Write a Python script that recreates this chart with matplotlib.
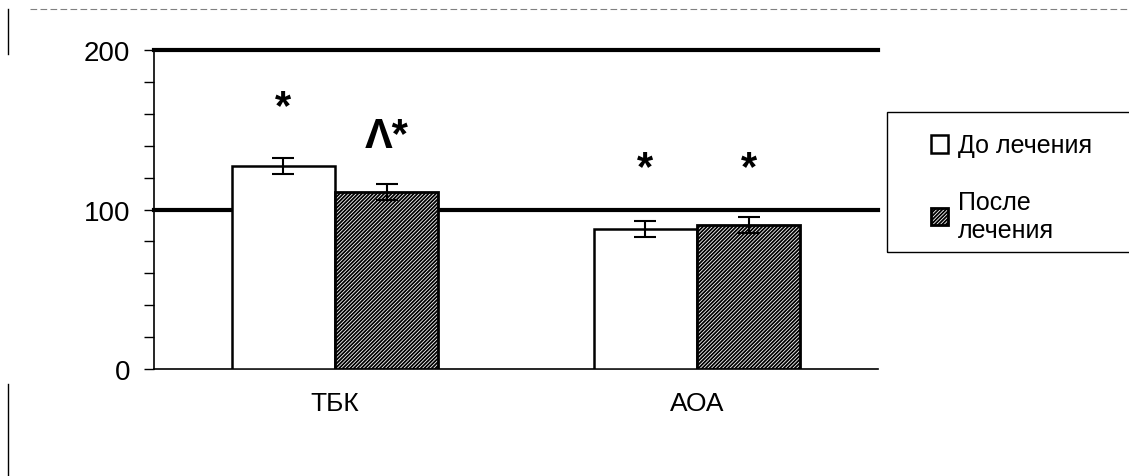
import matplotlib.pyplot as plt
import numpy as np
from matplotlib.patches import Rectangle
from matplotlib.lines import Line2D

categories = ['ТБК', 'АОА']
before = [127, 88]
after = [111, 90]
before_err = [5, 5]
after_err = [5, 5]
series_labels = ['До лечения', 'После\nлечения']
marks = [('*', 0, 'b'), ('Λ*', 0, 'a'), ('*', 1, 'b'), ('*', 1, 'a')]
mark_y = [164, 146, 126, 126]

plt.rcParams['font.family'] = ['Liberation Sans', 'DejaVu Sans']
plt.rcParams['hatch.linewidth'] = 1.3

fig = plt.figure(figsize=(11.29, 4.77), dpi=100)
ax = fig.add_axes([0.1364, 0.2243, 0.6413, 0.6688])

x = np.arange(len(categories))
w = 0.285
ax.bar(x - w / 2, before, w, color='white', edgecolor='black', linewidth=1.8,
       yerr=before_err, capsize=8, error_kw=dict(elinewidth=1.5, capthick=1.5),
       label=series_labels[0], zorder=3)
ax.bar(x + w / 2, after, w, color='white', edgecolor='black', linewidth=2,
       hatch='/////////', yerr=after_err, capsize=8,
       error_kw=dict(elinewidth=1.5, capthick=1.5),
       label=series_labels[1], zorder=3)

for y in [100, 200]:
    ax.axhline(y, color='black', linewidth=3, zorder=2, clip_on=False)

for (txt, i, s), yy in zip(marks, mark_y):
    xx = x[i] - w / 2 if s == 'b' else x[i] + w / 2
    ax.text(xx, yy, txt, ha='center', va='center', fontsize=30,
            fontweight='bold', zorder=4)

ax.set_xlim(-0.5, 1.5)
ax.set_ylim(0, 200)
ax.set_yticks(np.arange(0, 201, 20))
ax.set_yticklabels([str(v) if v % 100 == 0 else '' for v in range(0, 201, 20)])
ax.set_xticks(x)
ax.set_xticklabels(categories)
ax.tick_params(axis='y', length=7, width=1, labelsize=20, pad=10)
ax.tick_params(axis='x', length=0, labelsize=19, pad=16)
ax.spines['top'].set_visible(False)
ax.spines['right'].set_visible(False)
ax.spines['left'].set_linewidth(1.2)
ax.spines['bottom'].set_linewidth(1.2)

# legend box
fig.patches.append(Rectangle((887 / 1129, 1 - 253 / 477), 0.3, 140 / 477,
                             transform=fig.transFigure, fill=False,
                             edgecolor='black', linewidth=1))
fig.legend(loc='upper left', bbox_to_anchor=(908 / 1129, 1 - 112 / 477),
           frameon=False, fontsize=18, handlelength=0.7, handleheight=0.7,
           handletextpad=0.4, labelspacing=1.3)

# scan border remnants
fig.add_artist(Line2D([30 / 1129, 1], [1 - 10 / 477, 1 - 10 / 477],
                      color='gray', linewidth=0.8, linestyle=(0, (6, 3))))
fig.add_artist(Line2D([8 / 1129, 8 / 1129], [1 - 10 / 477, 1 - 55 / 477],
                      color='black', linewidth=1))
fig.add_artist(Line2D([8 / 1129, 8 / 1129], [1 - 385 / 477, 0],
                      color='black', linewidth=1))

fig.savefig('out.png', dpi=100)
